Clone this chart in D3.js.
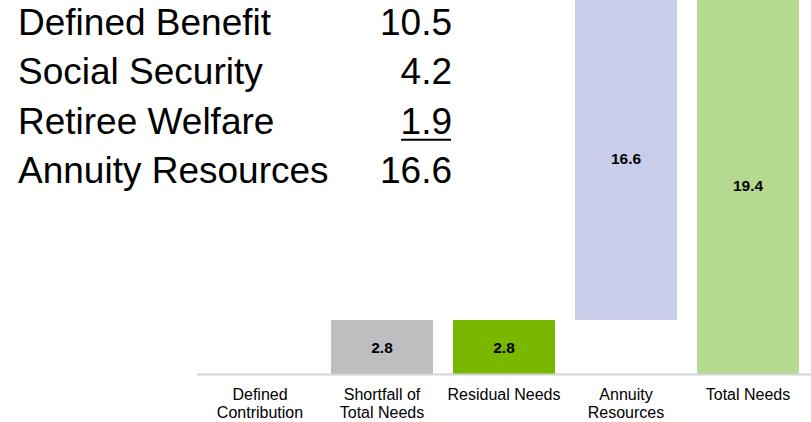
<!DOCTYPE html>
<html>
<head>
<meta charset="utf-8">
<script src="https://cdn.jsdelivr.net/npm/d3@7"></script>
<style>
  html, body { margin: 0; padding: 0; background: #fff; }
  svg { display: block; font-family: "Liberation Sans", Arial, sans-serif; }
</style>
</head>
<body>
<svg id="chart" width="811" height="422"></svg>
<script>
// Resource breakdown shown as a text table
const resourceNames = ["Defined Benefit", "Social Security", "Retiree Welfare", "Annuity Resources"];
const resourceValues = [10.5, 4.2, 1.9, 16.6];

// Waterfall bars
const categories = ["Defined Contribution", "Shortfall of Total Needs", "Residual Needs", "Annuity Resources", "Total Needs"];
const categoryLines = [["Defined", "Contribution"], ["Shortfall of", "Total Needs"], ["Residual Needs"], ["Annuity", "Resources"], ["Total Needs"]];
const barBase = [0, 0, 0, 2.8, 0];
const barValue = [0, 2.8, 2.8, 16.6, 19.4];
const barColors = ["#ffffff", "#bdbec0", "#7ab800", "#c8ceea", "#b5d98f"];

const svg = d3.select("#chart");

const bars = categories.map((c, i) => ({
  name: c, lines: categoryLines[i], base: barBase[i], value: barValue[i], color: barColors[i]
}));

const x = d3.scaleBand()
  .domain(categories)
  .range([199, 809])
  .paddingInner(0.164)
  .paddingOuter(0.082);

const y = d3.scaleLinear()
  .domain([0, 19.4])
  .range([374.5, -3]);

// bars
svg.append("g")
  .selectAll("rect")
  .data(bars.filter(d => d.value > 0))
  .join("rect")
  .attr("x", d => x(d.name))
  .attr("width", x.bandwidth())
  .attr("y", d => y(d.base + d.value))
  .attr("height", d => y(d.base) - y(d.base + d.value))
  .attr("fill", d => d.color);

// value labels centred in each bar
svg.append("g")
  .selectAll("text")
  .data(bars.filter(d => d.value > 0))
  .join("text")
  .attr("x", d => x(d.name) + x.bandwidth() / 2)
  .attr("y", d => (y(d.base) + y(d.base + d.value)) / 2)
  .attr("dy", "0.36em")
  .attr("text-anchor", "middle")
  .attr("font-size", 15.5)
  .attr("font-weight", "bold")
  .attr("fill", "#000")
  .text(d => d.value.toFixed(1));

// category axis
const axis = svg.append("g")
  .attr("transform", `translate(0,${y(0)})`)
  .call(d3.axisBottom(x).tickSize(0).tickFormat(""));
axis.select(".domain")
  .attr("d", "M197,0H811")
  .attr("stroke", "#d4d4d4")
  .attr("stroke-width", 2);

const tickLabels = svg.append("g")
  .selectAll("text")
  .data(bars)
  .join("text")
  .attr("x", d => x(d.name) + x.bandwidth() / 2)
  .attr("y", 400)
  .attr("text-anchor", "middle")
  .attr("font-size", 16)
  .attr("fill", "#000");
tickLabels.selectAll("tspan")
  .data(d => d.lines.map(l => ({ l, cx: x(d.name) + x.bandwidth() / 2 })))
  .join("tspan")
  .attr("x", d => d.cx)
  .attr("dy", (d, i) => i === 0 ? 0 : 18)
  .text(d => d.l);

// resource table
const rowY = d3.scalePoint()
  .domain(resourceNames)
  .range([35, 183]);

const table = svg.append("g").attr("font-size", 37).attr("fill", "#000");
table.selectAll("text.name")
  .data(resourceNames)
  .join("text")
  .attr("class", "name")
  .attr("x", 18)
  .attr("y", d => rowY(d))
  .text(d => d);

table.selectAll("text.val")
  .data(resourceNames.map((n, i) => ({ n, v: resourceValues[i] })))
  .join("text")
  .attr("class", "val")
  .attr("x", 452)
  .attr("y", d => rowY(d.n))
  .attr("text-anchor", "end")
  .text(d => d.v.toFixed(1));

// underline under the last addend, before the total
const lastAddend = resourceNames[resourceNames.length - 2];
svg.append("line")
  .attr("x1", 401)
  .attr("x2", 451)
  .attr("y1", rowY(lastAddend) + 6)
  .attr("y2", rowY(lastAddend) + 6)
  .attr("stroke", "#000")
  .attr("stroke-width", 2);
</script>
</body>
</html>
